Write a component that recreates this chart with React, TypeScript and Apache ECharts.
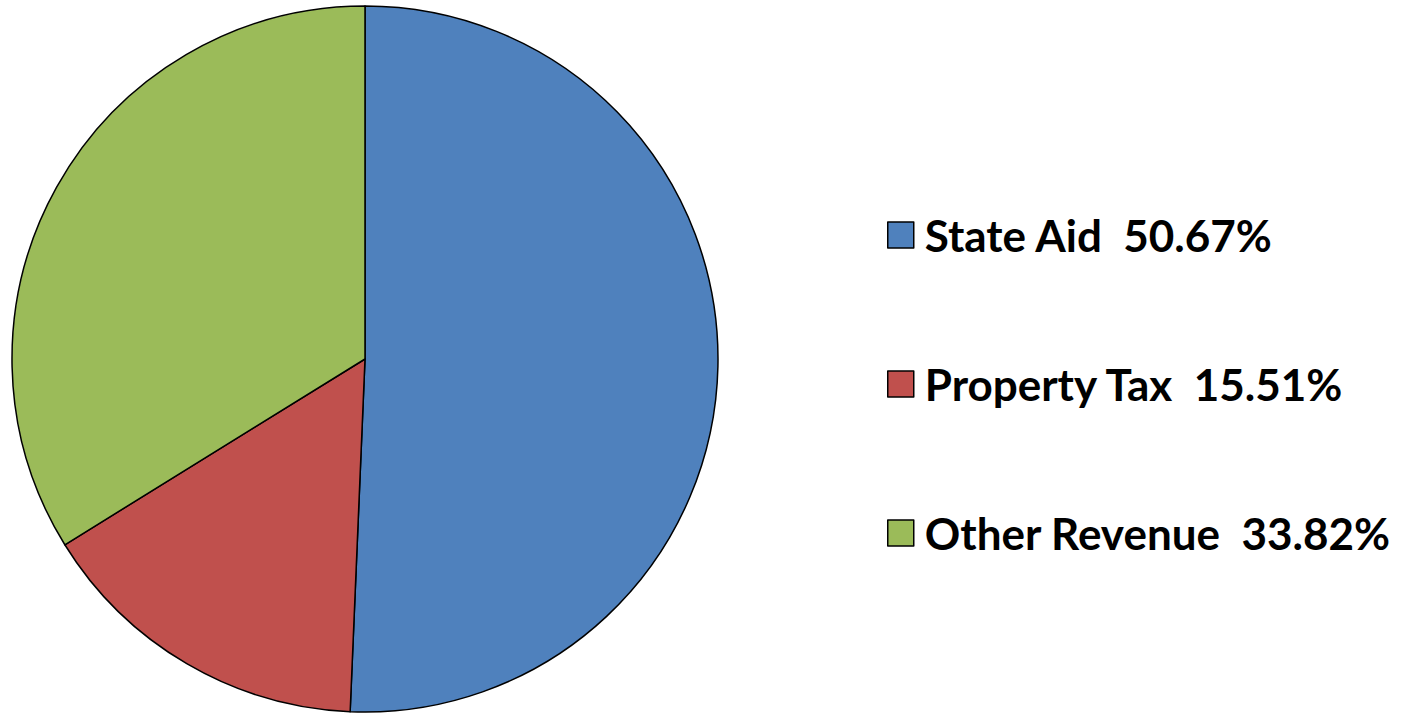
import React, { useEffect, useRef } from "react";
import * as echarts from "echarts";

const categories = ["State Aid", "Property Tax", "Other Revenue"];
const shares = [50.67, 15.51, 33.82];
const colors = ["#4F81BD", "#C0504D", "#9BBB59"];

export default function App() {
  const ref = useRef<HTMLDivElement>(null);
  useEffect(() => {
    const chart = echarts.init(ref.current!, null, { renderer: "svg" });
    const data = categories.map((name, i) => ({
      name,
      value: shares[i],
      itemStyle: { color: colors[i] },
    }));
    chart.setOption({
      animation: false,
      legend: {
        orient: "vertical",
        left: 887,
        top: 213,
        padding: 0,
        itemWidth: 26,
        itemHeight: 26,
        itemGap: 105,
        icon: "rect",
        formatter: (name: string) => {
          const i = categories.indexOf(name);
          return `${name}  ${shares[i].toFixed(2)}%`;
        },
        textStyle: {
          fontFamily: "Lato",
          fontWeight: "bold",
          fontSize: 44,
          lineHeight: 44,
          color: "#000",
          padding: [0, 0, 0, 6],
        },
        itemStyle: { borderColor: "#000", borderWidth: 1.5 },
        selectedMode: false,
      },
      series: [
        {
          type: "pie",
          center: [365, 359],
          radius: 353,
          startAngle: 90,
          clockwise: true,
          label: { show: false },
          labelLine: { show: false },
          itemStyle: { borderColor: "#000", borderWidth: 1.5 },
          emphasis: { disabled: true },
          data,
        },
      ],
    });
    return () => chart.dispose();
  }, []);
  return (
    <div
      ref={ref}
      style={{ position: "fixed", left: 0, top: 0, width: 1405, height: 713, background: "#fff" }}
    />
  );
}
